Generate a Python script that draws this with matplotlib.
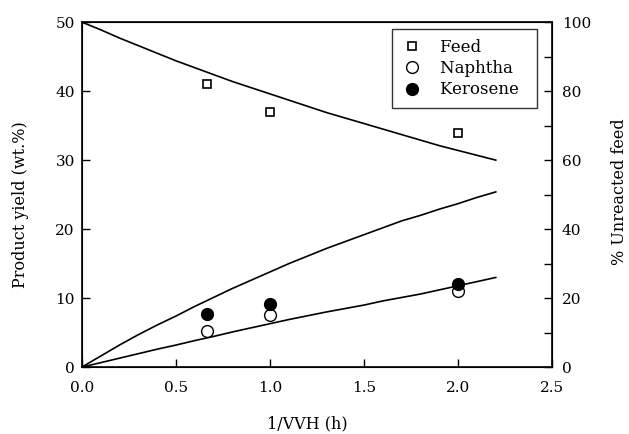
import matplotlib
matplotlib.use("Agg")
import matplotlib.pyplot as plt
from matplotlib.ticker import MultipleLocator

plt.rcParams['font.family'] = ['DejaVu Serif']

# measured points
x_pts = [0.667, 1.0, 2.0]
feed_pts = [41.0, 37.0, 34.0]
naphtha_pts = [5.3, 7.5, 11.0]
kerosene_pts = [7.7, 9.1, 12.0]

# model curves
x_curve = [0.0, 0.1, 0.2, 0.3, 0.4, 0.5, 0.6, 0.7, 0.8, 0.9, 1.0, 1.1, 1.2, 1.3, 1.4, 1.5,
           1.6, 1.7, 1.8, 1.9, 2.0, 2.1, 2.2]
feed_curve = [50.0, 48.9, 47.7, 46.6, 45.5, 44.4, 43.4, 42.4, 41.4, 40.5, 39.6, 38.7, 37.8,
              36.9, 36.1, 35.3, 34.5, 33.7, 32.9, 32.1, 31.4, 30.7, 30.0]
upper_curve = [0.0, 1.6, 3.2, 4.7, 6.1, 7.4, 8.8, 10.1, 11.4, 12.6, 13.8, 15.0, 16.1,
               17.2, 18.2, 19.2, 20.2, 21.2, 22.0, 22.9, 23.7, 24.6, 25.4]
lower_curve = [0.0, 0.65, 1.3, 1.95, 2.6, 3.2, 3.85, 4.45, 5.1, 5.7, 6.3, 6.9, 7.45,
               8.0, 8.5, 9.0, 9.6, 10.1, 10.6, 11.2, 11.8, 12.4, 13.0]

x_ticks = [0.0, 0.5, 1.0, 1.5, 2.0, 2.5]
left_ticks = [0, 10, 20, 30, 40, 50]
right_ticks = [0, 20, 40, 60, 80, 100]

fig = plt.figure(figsize=(6.29, 4.34), dpi=100)
ax = fig.add_axes([0.130, 0.154, 0.748, 0.795])

ax.plot(x_curve, feed_curve, color='black', lw=1.2)
ax.plot(x_curve, upper_curve, color='black', lw=1.2)
ax.plot(x_curve, lower_curve, color='black', lw=1.2)

ax.plot(x_pts, feed_pts, 's', mfc='white', mec='black', ms=6, mew=1.2, ls='none', label='Feed')
ax.plot(x_pts, naphtha_pts, 'o', mfc='white', mec='black', ms=8.5, mew=1.0, ls='none', label='Naphtha')
ax.plot(x_pts, kerosene_pts, 'o', mfc='black', mec='black', ms=8.5, ls='none', label='Kerosene')

ax.set_xlim(0, 2.5)
ax.set_ylim(0, 50)
ax.set_xticks(x_ticks)
ax.set_yticks(left_ticks)
ax.set_xticklabels([f"{v:.1f}" for v in x_ticks])
ax.set_yticklabels([str(v) for v in left_ticks])
ax.tick_params(direction='in', length=6, width=1, labelsize=11, top=False, right=False)
ax.tick_params(axis='x', pad=10)
ax.tick_params(axis='y', pad=5)
ax.set_xlabel('1/VVH (h)', fontsize=11.5)
ax.xaxis.set_label_coords(0.48, -0.140)
ax.set_ylabel('Product yield (wt.%)', fontsize=11.5)
ax.yaxis.set_label_coords(-0.113, 0.47)
for s in ax.spines.values():
    s.set_linewidth(1.2)

ax2 = ax.twinx()
ax2.set_ylim(0, 100)
ax2.set_yticks(right_ticks)
ax2.set_yticklabels([str(v) for v in right_ticks])
ax2.yaxis.set_minor_locator(MultipleLocator(10))
ax2.tick_params(which='both', direction='in', length=6, width=1, labelsize=11, pad=7)
ax2.set_ylabel('% Unreacted feed', fontsize=11.5)
ax2.yaxis.set_label_coords(1.125, 0.51)

leg = ax.legend(loc='upper right', bbox_to_anchor=(0.968, 0.980), borderaxespad=0,
                frameon=True, fancybox=False, edgecolor='black', fontsize=12,
                handletextpad=1.0, borderpad=0.6, labelspacing=0.25, handlelength=1.3)
leg.get_frame().set_linewidth(1.0)
# widen the frame on the right like the reference
fig.canvas.draw()
frame = leg.get_frame()
frame.set_x(frame.get_x() - 0)
for t in leg.get_texts():
    t.set_text(t.get_text() + '\u2002')

fig.savefig('out.png', dpi=100)
